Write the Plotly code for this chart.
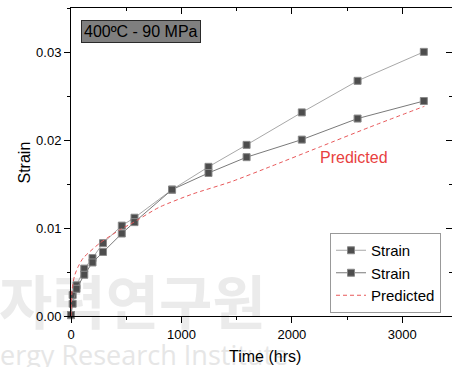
import plotly.graph_objects as go

time_hrs = [0, 15, 50, 120, 195, 290, 460, 575, 915, 1245, 1590, 2090, 2595, 3195]
strain_1 = [0.0001, 0.0024, 0.0035, 0.0054, 0.0066, 0.0083, 0.0103, 0.0112, 0.0144, 0.0170, 0.0195, 0.0232, 0.0268, 0.0301]
strain_2 = [0.0001, 0.0014, 0.0031, 0.0047, 0.0061, 0.0073, 0.0094, 0.0107, 0.0144, 0.0163, 0.0181, 0.0201, 0.0225, 0.0245]

# Predicted curve
pred_time = [0, 3, 10, 30, 60, 110, 260, 440, 570, 800, 1100, 1450, 1800, 2260, 2700, 3200]
pred_strain = [0.0, 0.0015, 0.0030, 0.0045, 0.0055, 0.0066, 0.0083, 0.0098, 0.0107, 0.0124, 0.0139, 0.0153, 0.0170, 0.0193, 0.0215, 0.0239]

x_ticks = [0, 1000, 2000, 3000]
y_ticks = [0.00, 0.01, 0.02, 0.03]
y_tick_text = ["0.00", "0.01", "0.02", "0.03"]

watermark_kr = "<b>자력연구원</b>"
watermark_en = "ergy Research Institute"

FONT = "Liberation Sans, Arial, sans-serif"
X_RANGE = [0, 3450]
Y_RANGE = [0, 0.0351]

fig = go.Figure()

fig.add_trace(go.Scatter(
    x=time_hrs, y=strain_1, name="Strain", mode="lines+markers",
    line=dict(color="#a8a8a8", width=1),
    marker=dict(symbol="square", size=7, color="#4d4d4d", line=dict(color="#8a8a8a", width=1)),
    cliponaxis=False,
))
fig.add_trace(go.Scatter(
    x=time_hrs, y=strain_2, name="Strain", mode="lines+markers",
    line=dict(color="#7a7a7a", width=1),
    marker=dict(symbol="square", size=7, color="#4d4d4d", line=dict(color="#8a8a8a", width=1)),
    cliponaxis=False,
))
fig.add_trace(go.Scatter(
    x=pred_time, y=pred_strain, name="Predicted", mode="lines",
    line=dict(color="#e8585a", width=1, dash="4px,3px", shape="spline", smoothing=0.6),
    cliponaxis=False,
))

# paper-coordinate helpers (plot area: x 71..452, y 8..316 px)
def px(x):
    return (x - 71) / 381

def py(y):
    return (316 - y) / 308

# faint watermark drawn beneath everything
shapes = [
    dict(type="rect", xref="paper", yref="paper", layer="below",
         x0=px(-4), x1=px(320), y0=py(336), y1=py(280),
         line=dict(width=0), fillcolor="rgba(0,0,0,0)",
         label=dict(text=watermark_kr, textposition="middle left", padding=0,
                    font=dict(family="Noto Sans CJK KR", size=58, color="#ebebeb"))),
    dict(type="rect", xref="paper", yref="paper", layer="below",
         x0=px(-3), x1=px(420), y0=py(370), y1=py(342),
         line=dict(width=0), fillcolor="rgba(0,0,0,0)",
         label=dict(text=watermark_en, textposition="middle left", padding=0,
                    font=dict(family="Open Sans, sans-serif", size=27, color="#e6e6e6"))),
]

annotations = [
    dict(text="Strain", xref="paper", yref="paper", x=px(23.5), y=py(163),
         xanchor="center", yanchor="middle", showarrow=False, textangle=-90,
         font=dict(family=FONT, size=16, color="#000000")),
    dict(text="Time (hrs)", xref="paper", yref="paper", x=px(264.5), y=py(356),
         xanchor="center", yanchor="middle", showarrow=False,
         font=dict(family=FONT, size=16, color="#000000")),
    dict(text="400ºC - 90 MPa", xref="paper", yref="paper", x=px(81), y=py(20),
         xanchor="left", yanchor="top", showarrow=False,
         font=dict(family=FONT, size=16, color="#000000"),
         bgcolor="#7f7f7f", bordercolor="#2a2a2a", borderwidth=1, borderpad=2),
    dict(text="Predicted", xref="x", yref="y", x=2560, y=0.0181,
         xanchor="center", yanchor="middle", showarrow=False,
         font=dict(family=FONT, size=16, color="#e8413f")),
]

fig.update_layout(
    width=452, height=367,
    margin=dict(l=71, r=0, t=8, b=51, autoexpand=False),
    paper_bgcolor="white", plot_bgcolor="rgba(0,0,0,0)",
    font=dict(family=FONT, size=13, color="#000000"),
    showlegend=True,
    legend=dict(
        x=px(330), y=py(273), xanchor="left", yanchor="middle",
        bgcolor="white", bordercolor="#999999", borderwidth=1,
        font=dict(family=FONT, size=15, color="#000000"),
        tracegroupgap=0, itemwidth=30,
    ),
    shapes=shapes,
    annotations=annotations,
    xaxis=dict(
        range=X_RANGE, tickvals=x_ticks, ticks="outside", ticklen=6, tickwidth=1,
        tickcolor="#000", showline=True, linecolor="#000", linewidth=1,
        showgrid=False, zeroline=False, tickfont=dict(size=13), automargin=False,
        minor=dict(dtick=500, tick0=0, ticks="outside", ticklen=3, tickcolor="#000"),
    ),
    yaxis=dict(
        range=Y_RANGE, tickvals=y_ticks, ticktext=y_tick_text, ticks="outside",
        ticklen=6, tickwidth=1, tickcolor="#000", showline=True, linecolor="#000",
        linewidth=1, showgrid=False, zeroline=False, tickfont=dict(size=13), automargin=False,
        minor=dict(dtick=0.005, tick0=0, ticks="outside", ticklen=3, tickcolor="#000"),
    ),
    xaxis2=dict(
        overlaying="x", side="top", range=X_RANGE, tickvals=x_ticks,
        ticks="inside", ticklen=6, tickcolor="#000", showticklabels=False,
        showline=True, linecolor="#000", linewidth=1, showgrid=False, zeroline=False,
        automargin=False,
        minor=dict(dtick=500, tick0=0, ticks="inside", ticklen=3, tickcolor="#000"),
    ),
    yaxis2=dict(
        overlaying="y", side="right", range=Y_RANGE, tickvals=y_ticks,
        ticks="inside", ticklen=6, tickcolor="#000", showticklabels=False,
        showline=True, linecolor="#000", linewidth=1, showgrid=False, zeroline=False,
        automargin=False,
        minor=dict(dtick=0.005, tick0=0, ticks="inside", ticklen=3, tickcolor="#000"),
    ),
)

# invisible trace to activate the mirrored axes
fig.add_trace(go.Scatter(x=[None], y=[None], xaxis="x2", yaxis="y2",
                         showlegend=False, hoverinfo="skip"))

fig.write_html("out.html", config={"displayModeBar": False},
               post_script="document.body.style.margin='0';")
